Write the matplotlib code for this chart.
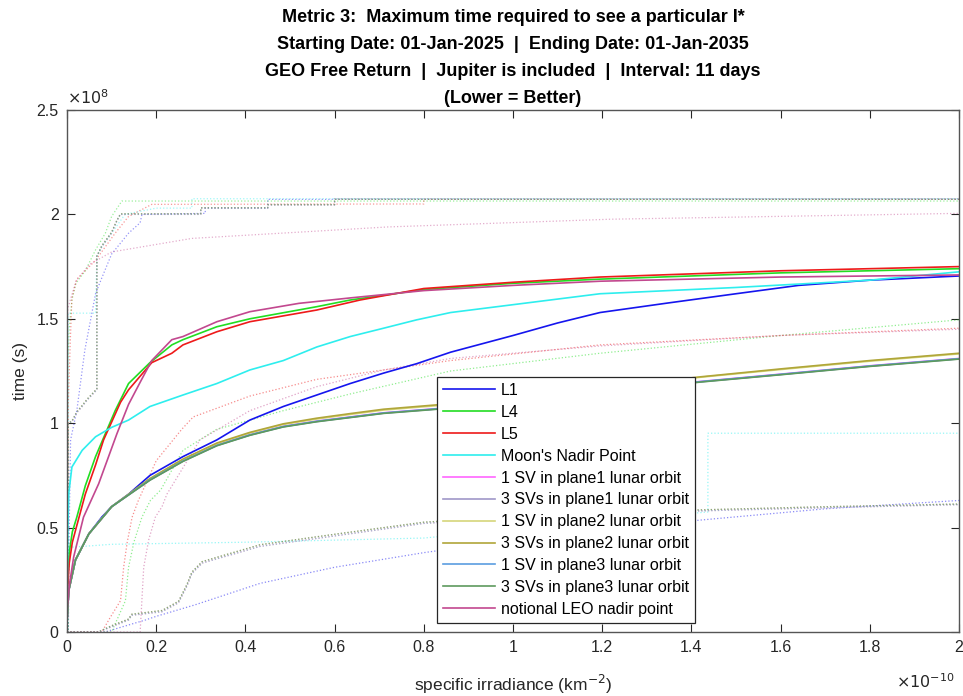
import matplotlib
matplotlib.use('Agg')
import matplotlib.pyplot as plt
from matplotlib.ticker import FuncFormatter, FixedLocator

# x in units of 1e-10 km^-2, y in units of 1e8 s
X_SCALE = 1e-10
Y_SCALE = 1e8

x_ticks = [0, 0.2, 0.4, 0.6, 0.8, 1.0, 1.2, 1.4, 1.6, 1.8, 2.0]
y_ticks = [0, 0.5, 1.0, 1.5, 2.0, 2.5]

labels = ['L1', 'L4', 'L5', "Moon's Nadir Point",
          '1 SV in plane1 lunar orbit', '3 SVs in plane1 lunar orbit',
          '1 SV in plane2 lunar orbit', '3 SVs in plane2 lunar orbit',
          '1 SV in plane3 lunar orbit', '3 SVs in plane3 lunar orbit',
          'notional LEO nadir point']
colors = ['#1515ee', '#22dd22', '#ee1a1a', '#2eeeee',
          '#ff66ff', '#9f97c8', '#d6d67a', '#b0a63a',
          '#5b9de0', '#5d9a5d', '#c2488f']

# ---------------- solid curves ----------------
l1_x = [0, 0.004, 0.019, 0.049, 0.078, 0.1, 0.138, 0.186, 0.26, 0.336, 0.41, 0.485, 0.56,
        0.635, 0.71, 0.784, 0.86, 1.0, 1.1, 1.195, 1.345, 1.5, 1.64, 1.8, 2.0]
l1_y = [0.05, 0.2, 0.345, 0.47, 0.55, 0.60, 0.66, 0.75, 0.84, 0.92, 1.015, 1.08, 1.135,
        1.19, 1.24, 1.285, 1.34, 1.42, 1.48, 1.53, 1.575, 1.62, 1.66, 1.685, 1.705]

l4_x = [0, 0.005, 0.012, 0.022, 0.041, 0.064, 0.086, 0.108, 0.138, 0.186, 0.235, 0.26,
        0.336, 0.41, 0.56, 0.635, 0.8, 1.0, 1.195, 1.6, 2.0]
l4_y = [0.2, 0.38, 0.48, 0.55, 0.70, 0.84, 0.95, 1.06, 1.19, 1.29, 1.375, 1.40,
        1.462, 1.50, 1.558, 1.59, 1.64, 1.67, 1.69, 1.72, 1.74]

l5_x = [0, 0.005, 0.012, 0.022, 0.041, 0.064, 0.082, 0.12, 0.138, 0.19, 0.235, 0.26,
        0.336, 0.41, 0.56, 0.657, 0.8, 1.0, 1.195, 1.6, 2.0]
l5_y = [0.15, 0.33, 0.43, 0.51, 0.66, 0.80, 0.92, 1.10, 1.16, 1.29, 1.335, 1.375,
        1.438, 1.486, 1.542, 1.59, 1.645, 1.675, 1.70, 1.73, 1.75]

moon_x = [0, 0.002, 0.004, 0.011, 0.034, 0.064, 0.1, 0.138, 0.186, 0.26, 0.336, 0.41,
          0.485, 0.56, 0.635, 0.71, 0.784, 0.86, 1.195, 1.5, 1.8, 2.0]
moon_y = [0.05, 0.5, 0.665, 0.79, 0.87, 0.935, 0.98, 1.015, 1.08, 1.135, 1.19, 1.255,
          1.30, 1.365, 1.415, 1.455, 1.495, 1.53, 1.62, 1.65, 1.685, 1.725]

leo_x = [0, 0.005, 0.015, 0.037, 0.071, 0.112, 0.138, 0.165, 0.19, 0.235, 0.26, 0.336,
         0.41, 0.52, 0.635, 0.8, 1.0, 1.195, 1.6, 2.0]
leo_y = [0.1, 0.22, 0.36, 0.55, 0.71, 0.95, 1.09, 1.20, 1.30, 1.40, 1.415, 1.486,
         1.534, 1.574, 1.60, 1.635, 1.66, 1.68, 1.70, 1.71]

# the six lunar-orbit curves share one x grid
lunar_x = [0, 0.004, 0.019, 0.049, 0.1, 0.186, 0.26, 0.336, 0.41, 0.485, 0.56, 0.635,
           0.71, 0.83, 1.0, 1.2, 1.42, 1.6, 1.8, 2.0]
p1_1sv = [0.05, 0.2, 0.345, 0.47, 0.60, 0.73, 0.82, 0.895, 0.945, 0.985, 1.01, 1.03,
          1.05, 1.07, 1.10, 1.15, 1.20, 1.235, 1.275, 1.31]
p1_3sv = [0.05, 0.2, 0.345, 0.47, 0.60, 0.728, 0.818, 0.893, 0.943, 0.983, 1.008, 1.028,
          1.048, 1.068, 1.098, 1.148, 1.198, 1.233, 1.273, 1.308]
p2_1sv = [0.05, 0.2, 0.345, 0.47, 0.60, 0.733, 0.826, 0.902, 0.953, 0.994, 1.02, 1.042,
          1.063, 1.084, 1.115, 1.167, 1.22, 1.257, 1.297, 1.332]
p2_3sv = [0.05, 0.2, 0.345, 0.47, 0.60, 0.735, 0.828, 0.905, 0.956, 0.997, 1.024, 1.046,
          1.067, 1.088, 1.12, 1.17, 1.222, 1.26, 1.30, 1.335]
p3_1sv = [0.05, 0.2, 0.345, 0.47, 0.60, 0.729, 0.819, 0.894, 0.944, 0.984, 1.009, 1.029,
          1.049, 1.069, 1.099, 1.149, 1.199, 1.234, 1.274, 1.309]
p3_3sv = [0.05, 0.2, 0.345, 0.47, 0.60, 0.727, 0.817, 0.892, 0.942, 0.982, 1.007, 1.027,
          1.047, 1.067, 1.097, 1.147, 1.197, 1.232, 1.272, 1.307]

# ---------------- upper dotted curves ----------------
l1_up_x = [0, 0.003, 0.005, 0.008, 0.022, 0.04, 0.064, 0.075, 0.1, 0.138, 0.164, 0.168,
           0.31, 0.31, 0.45, 0.45, 2.0]
l1_up_y = [0, 0, 0.5, 0.92, 1.06, 1.35, 1.62, 1.68, 1.81, 1.91, 1.96, 2.0,
           2.005, 2.03, 2.03, 2.072, 2.072]
l4_up_x = [0, 0.002, 0.005, 0.011, 0.02, 0.041, 0.064, 0.086, 0.1, 0.123, 2.0]
l4_up_y = [0, 1.3, 1.45, 1.59, 1.67, 1.73, 1.83, 1.91, 1.99, 2.064, 2.064]
l5_up_x = [0, 0.003, 0.007, 0.011, 0.022, 0.064, 0.086, 0.108, 0.138, 0.19, 0.8, 0.8, 2.0]
l5_up_y = [0, 1.1, 1.37, 1.6, 1.69, 1.78, 1.845, 1.91, 1.99, 2.048, 2.05, 2.072, 2.072]
moon_up_x = [0, 0.003, 0.003, 0.064, 0.067, 0.078, 0.1, 0.12, 0.13, 0.2, 0.28, 0.28, 2.0]
moon_up_y = [0, 0, 1.527, 1.527, 1.80, 1.845, 1.91, 1.97, 2.0, 2.03, 2.03, 2.075, 2.075]
leo_up_x = [0, 0.002, 0.02, 0.05, 0.1, 0.28, 0.72, 1.22, 2.0]
leo_up_y = [1.0, 1.55, 1.68, 1.76, 1.82, 1.885, 1.94, 1.977, 2.005]

lunar_up_x = [0, 0.003, 0.003, 0.011, 0.022, 0.034, 0.045, 0.056, 0.067, 0.067, 0.078,
              0.1, 0.112, 0.12, 0.3, 0.3, 0.45, 0.45, 0.6, 0.6, 2.0]
lunar_up_a = [0, 0, 1.0, 1.007, 1.05, 1.08, 1.11, 1.135, 1.16, 1.80, 1.845,
              1.91, 1.97, 2.0, 2.0, 2.03, 2.03, 2.045, 2.045, 2.075, 2.075]
lunar_up_b = [0, 0, 1.0, 1.01, 1.055, 1.085, 1.115, 1.14, 1.165, 1.80, 1.85,
              1.915, 1.972, 2.003, 2.003, 2.032, 2.032, 2.047, 2.047, 2.072, 2.072]

# ---------------- lower dotted curves ----------------
l1_lo_x = [0, 0.085, 0.175, 0.2, 0.287, 0.433, 0.6, 0.8, 1.0, 1.2, 1.42, 1.7, 2.0]
l1_lo_y = [0, 0, 0.057, 0.075, 0.13, 0.233, 0.31, 0.38, 0.44, 0.49, 0.536, 0.59, 0.63]
l4_lo_x = [0, 0.1, 0.131, 0.138, 0.15, 0.168, 0.187, 0.21, 0.26, 0.335, 0.485, 0.635,
           0.86, 1.195, 1.6, 2.0]
l4_lo_y = [0, 0, 0.15, 0.31, 0.43, 0.55, 0.63, 0.68, 0.87, 0.97, 1.06, 1.14,
           1.25, 1.335, 1.42, 1.495]
l5_lo_x = [0, 0.078, 0.097, 0.12, 0.127, 0.135, 0.146, 0.16, 0.2, 0.257, 0.283, 0.41,
           0.56, 0.71, 0.86, 1.195, 1.6, 2.0]
l5_lo_y = [0, 0, 0.07, 0.15, 0.31, 0.43, 0.55, 0.63, 0.82, 0.97, 1.03, 1.13,
           1.21, 1.255, 1.30, 1.375, 1.42, 1.455]
moon_lo_x = [0, 0.002, 0.003, 0.1, 0.4, 0.8, 1.0, 1.2, 1.437, 1.437, 2.0]
moon_lo_y = [0, 0, 0.405, 0.42, 0.43, 0.45, 0.49, 0.53, 0.575, 0.952, 0.952]
leo_lo_x = [0, 0.164, 0.172, 0.183, 0.198, 0.213, 0.224, 0.298, 0.41, 0.56, 0.71, 0.86,
            1.195, 1.6, 2.0]
leo_lo_y = [0, 0, 0.31, 0.44, 0.55, 0.60, 0.66, 0.92, 1.06, 1.175, 1.255, 1.31,
            1.37, 1.42, 1.45]

lunar_lo_x = [0, 0.07, 0.1, 0.138, 0.145, 0.213, 0.25, 0.269, 0.28, 0.303, 0.433, 0.6,
              0.8, 1.0, 1.2, 1.42, 1.7, 2.0]
lunar_lo_a = [0, 0, 0.025, 0.057, 0.08, 0.097, 0.14, 0.22, 0.28, 0.33, 0.41, 0.46,
              0.52, 0.545, 0.565, 0.58, 0.595, 0.61]
lunar_lo_b = [0, 0, 0.03, 0.062, 0.085, 0.103, 0.147, 0.228, 0.287, 0.337, 0.418, 0.468,
              0.526, 0.55, 0.57, 0.585, 0.6, 0.613]

solid = [(l1_x, l1_y), (l4_x, l4_y), (l5_x, l5_y), (moon_x, moon_y),
         (lunar_x, p1_1sv), (lunar_x, p1_3sv), (lunar_x, p2_1sv), (lunar_x, p2_3sv),
         (lunar_x, p3_1sv), (lunar_x, p3_3sv), (leo_x, leo_y)]
upper = [(l1_up_x, l1_up_y), (l4_up_x, l4_up_y), (l5_up_x, l5_up_y), (moon_up_x, moon_up_y),
         (lunar_up_x, lunar_up_a), (lunar_up_x, lunar_up_b), (lunar_up_x, lunar_up_a),
         (lunar_up_x, lunar_up_b), (lunar_up_x, lunar_up_a), (lunar_up_x, lunar_up_b),
         (leo_up_x, leo_up_y)]
lower = [(l1_lo_x, l1_lo_y), (l4_lo_x, l4_lo_y), (l5_lo_x, l5_lo_y), (moon_lo_x, moon_lo_y),
         (lunar_lo_x, lunar_lo_a), (lunar_lo_x, lunar_lo_b), (lunar_lo_x, lunar_lo_a),
         (lunar_lo_x, lunar_lo_b), (lunar_lo_x, lunar_lo_a), (lunar_lo_x, lunar_lo_b),
         (leo_lo_x, leo_lo_y)]

plt.rcParams['font.family'] = ['Liberation Sans', 'DejaVu Sans']

fig = plt.figure(figsize=(9.63, 6.96), dpi=100)
ax = fig.add_axes([67 / 963, 64 / 696, 892 / 963, 522 / 696])

def sc(xs, ys):
    return [v * X_SCALE for v in xs], [v * Y_SCALE for v in ys]

for (xs, ys), c in zip(upper, colors):
    ax.plot(*sc(xs, ys), ls=':', lw=0.9, color=c, alpha=0.45)
for (xs, ys), c in zip(lower, colors):
    ax.plot(*sc(xs, ys), ls=':', lw=0.9, color=c, alpha=0.5)
for (xs, ys), c, lab in zip(solid, colors, labels):
    ax.plot(*sc(xs, ys), ls='-', lw=1.2, color=c, label=lab)

ax.set_xlim(0, 2e-10)
ax.set_ylim(0, 2.5e8)
ax.xaxis.set_major_locator(FixedLocator([v * X_SCALE for v in x_ticks]))
ax.yaxis.set_major_locator(FixedLocator([v * Y_SCALE for v in y_ticks]))
ax.xaxis.set_major_formatter(FuncFormatter(lambda v, p: f'{v / X_SCALE:.1f}'.rstrip('0').rstrip('.')))
ax.yaxis.set_major_formatter(FuncFormatter(lambda v, p: f'{v / Y_SCALE:.1f}'.rstrip('0').rstrip('.')))
ax.tick_params(direction='in', length=6, width=0.8, top=True, right=True,
               labelsize=11.5, colors='#262626', pad=6)
for s in ax.spines.values():
    s.set_color('#555555')
    s.set_linewidth(1.0)

ax.text(0, 1.005, r'$\times10^{8}$', transform=ax.transAxes, fontsize=11.5,
        color='#262626', ha='left', va='bottom')
ax.text(0.995, -0.078, r'$\times10^{-10}$', transform=ax.transAxes, fontsize=11.5,
        color='#262626', ha='right', va='top')

ax.set_xlabel('specific irradiance (km$^{-2}$)', fontsize=12.5, color='#262626', labelpad=13)
ax.set_ylabel('time (s)', fontsize=12.5, color='#262626', labelpad=6)

title = ('Metric 3:  Maximum time required to see a particular I*\n'
         'Starting Date: 01-Jan-2025  |  Ending Date: 01-Jan-2035\n'
         'GEO Free Return  |  Jupiter is included  |  Interval: 11 days\n'
         '(Lower = Better)')
ax.set_title(title, fontsize=13, fontweight='bold', linespacing=1.78, pad=5,
             family=['Liberation Sans Narrow', 'Liberation Sans', 'DejaVu Sans'])

leg = ax.legend(loc='lower left', bbox_to_anchor=(0.4148, 0.017), fontsize=11.5,
                handlelength=3.2, handletextpad=0.4, labelspacing=0.43,
                borderpad=0.4, fancybox=False, framealpha=1, edgecolor='#262626',
                borderaxespad=0)
leg.get_frame().set_linewidth(0.9)

fig.savefig('out.png', dpi=100)
